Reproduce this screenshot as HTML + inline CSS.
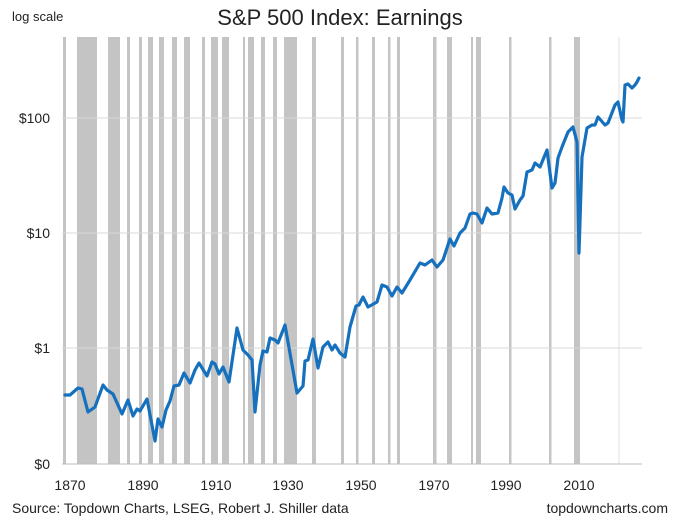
<!DOCTYPE html>
<html><head><meta charset="utf-8"><style>
body{margin:0;background:#fff;}
svg text{font-family:"Liberation Sans",Arial,sans-serif;fill:#222;}
</style></head><body>
<svg width="680" height="519" viewBox="0 0 680 519" xmlns="http://www.w3.org/2000/svg">
<rect width="680" height="519" fill="#fff"/>
<g fill="#c4c4c4">
<rect x="63" y="37" width="3" height="427"/>
<rect x="77" y="37" width="20" height="427"/>
<rect x="108" y="37" width="12" height="427"/>
<rect x="127" y="37" width="3" height="427"/>
<rect x="139" y="37" width="3" height="427"/>
<rect x="148" y="37" width="5" height="427"/>
<rect x="159" y="37" width="5" height="427"/>
<rect x="172" y="37" width="5" height="427"/>
<rect x="184" y="37" width="6" height="427"/>
<rect x="202" y="37" width="3" height="427"/>
<rect x="211" y="37" width="7" height="427"/>
<rect x="222" y="37" width="7" height="427"/>
<rect x="243" y="37" width="2" height="427"/>
<rect x="248" y="37" width="6" height="427"/>
<rect x="261" y="37" width="4" height="427"/>
<rect x="273" y="37" width="4" height="427"/>
<rect x="284" y="37" width="13" height="427"/>
<rect x="312" y="37" width="4" height="427"/>
<rect x="341" y="37" width="3" height="427"/>
<rect x="356" y="37" width="2.5" height="427"/>
<rect x="372" y="37" width="3" height="427"/>
<rect x="388" y="37" width="2.5" height="427"/>
<rect x="397" y="37" width="3" height="427"/>
<rect x="433" y="37" width="3.5" height="427"/>
<rect x="447" y="37" width="5" height="427"/>
<rect x="471" y="37" width="2" height="427"/>
<rect x="476" y="37" width="5" height="427"/>
<rect x="509" y="37" width="2.5" height="427"/>
<rect x="549" y="37" width="2.5" height="427"/>
<rect x="574" y="37" width="6" height="427"/>
</g>
<line x1="619" y1="37" x2="619" y2="464" stroke="#e2e2e2" stroke-width="1"/>
<g stroke="#d9d9d9" stroke-width="1">
<line x1="62" y1="118" x2="642" y2="118"/>
<line x1="62" y1="233" x2="642" y2="233"/>
<line x1="62" y1="348" x2="642" y2="348"/>
</g>
<line x1="62" y1="464" x2="642" y2="464" stroke="#bdbdbd" stroke-width="1"/>
<polyline fill="none" stroke="#1570be" stroke-width="3.2" stroke-linejoin="round" stroke-linecap="round" points="
65,395 70,395 78,388 82,389 88,412 95,407 103,385 107,390 113,394 122,414 128,400 133,416 137,409 140,411 147,399 155,441 158,419 162,427 166,410 170,401 174,386 179,385 184,373 190,383 195,370 199,363 207,376 212,362 215,364 219,374 223,367 229,382 237,328 243,350 248,355 252,360 255,412 260,365 263,351 267,352 270,338 275,340 278,343 285,325 297,393 303,386 305,361 308,360 313,339 318,368 323,347 328,342 332,350 335,345 340,353 345,357 350,327 356,306 359,305 363,297 368,307 377,302 382,285 387,287 392,296 397,287 402,293 410,280 420,263 425,265 432,260 437,267 443,260 450,239 454,246 460,233 465,228 470,214 473,213 477,214 482,223 487,208 492,214 498,213 502,198 504,187 508,193 512,195 515,209 520,200 523,196 527,172 532,170 535,163 540,167 547,150 552,188 555,183 558,158 562,147 568,132 573,127 577,142 579,253 582,157 587,128 592,125 595,125 598,117 605,125 608,123 615,105 618,102 622,120 623,122 625,85 628,84 632,88 635,85 637,82 639,78"/>
<text x="340" y="25" font-size="22" text-anchor="middle">S&amp;P 500 Index: Earnings</text>
<text x="12" y="21" font-size="13">log scale</text>
<g font-size="14" text-anchor="end">
<text x="50" y="123">$100</text>
<text x="50" y="238">$10</text>
<text x="50" y="353">$1</text>
<text x="50" y="469">$0</text>
</g>
<g font-size="14" text-anchor="middle">
<text x="70" y="490">1870</text>
<text x="143" y="490">1890</text>
<text x="216" y="490">1910</text>
<text x="288" y="490">1930</text>
<text x="361" y="490">1950</text>
<text x="434" y="490">1970</text>
<text x="506" y="490">1990</text>
<text x="579" y="490">2010</text>
</g>
<text x="12" y="513" font-size="14">Source: Topdown Charts, LSEG, Robert J. Shiller data</text>
<text x="668" y="513" font-size="14" text-anchor="end" fill="#555">topdowncharts.com</text>
</svg>
</body></html>
